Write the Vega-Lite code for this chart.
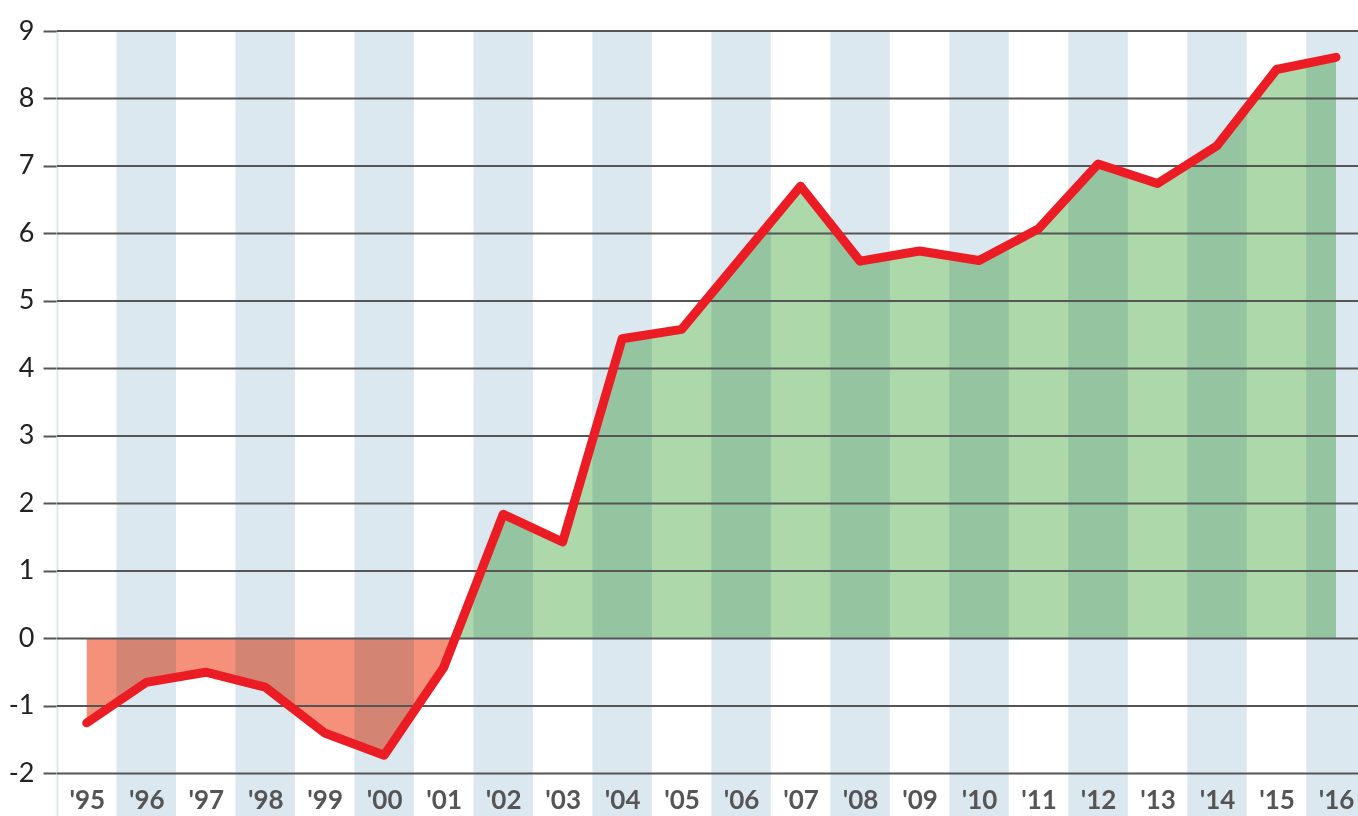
{
  "$schema": "https://vega.github.io/schema/vega-lite/v6.json",
  "autosize": {"type": "none"},
  "padding": {"left": 57, "top": 31, "right": 0, "bottom": 0},
  "width": 1301,
  "height": 785,
  "background": "#ffffff",
  "config": {
    "view": {"stroke": null},
    "axis": {"labelOverlap": false, "labelFlush": false, "labelBound": false}
  },
  "datasets": {
    "series": [
      {"year": 1995, "value": -1.25},
      {"year": 1996, "value": -0.65},
      {"year": 1997, "value": -0.5},
      {"year": 1998, "value": -0.72},
      {"year": 1999, "value": -1.4},
      {"year": 2000, "value": -1.73},
      {"year": 2001, "value": -0.43},
      {"year": 2001.19, "value": 0},
      {"year": 2002, "value": 1.84},
      {"year": 2003, "value": 1.43},
      {"year": 2004, "value": 4.44},
      {"year": 2005, "value": 4.58},
      {"year": 2006, "value": 5.64},
      {"year": 2007, "value": 6.7},
      {"year": 2008, "value": 5.59},
      {"year": 2009, "value": 5.74},
      {"year": 2010, "value": 5.6},
      {"year": 2011, "value": 6.07},
      {"year": 2012, "value": 7.03},
      {"year": 2013, "value": 6.74},
      {"year": 2014, "value": 7.3},
      {"year": 2015, "value": 8.43},
      {"year": 2016, "value": 8.61}
    ],
    "bands": [
      {"start": 1995.5, "end": 1996.5},
      {"start": 1997.5, "end": 1998.5},
      {"start": 1999.5, "end": 2000.5},
      {"start": 2001.5, "end": 2002.5},
      {"start": 2003.5, "end": 2004.5},
      {"start": 2005.5, "end": 2006.5},
      {"start": 2007.5, "end": 2008.5},
      {"start": 2009.5, "end": 2010.5},
      {"start": 2011.5, "end": 2012.5},
      {"start": 2013.5, "end": 2014.5},
      {"start": 2015.5, "end": 2016.5}
    ],
    "grid": [
      {"v": -2}, {"v": -1}, {"v": 0}, {"v": 1}, {"v": 2}, {"v": 3},
      {"v": 4}, {"v": 5}, {"v": 6}, {"v": 7}, {"v": 8}, {"v": 9}
    ]
  },
  "layer": [
    {
      "data": {"name": "bands"},
      "mark": {"type": "rect", "color": "#dce8f0", "clip": true},
      "encoding": {
        "x": {
          "field": "start", "type": "quantitative",
          "scale": {"domain": [1994.5, 2016.37], "nice": false, "zero": false},
          "axis": {
            "values": [1995, 1996, 1997, 1998, 1999, 2000, 2001, 2002, 2003, 2004, 2005, 2006, 2007, 2008, 2009, 2010, 2011, 2012, 2013, 2014, 2015, 2016],
            "format": "d",
            "labelExpr": "\"'\" + slice(datum.label, 2)",
            "title": null,
            "domain": false,
            "ticks": false,
            "grid": false,
            "zindex": 2,
            "labelPadding": -16,
            "labelBaseline": "middle",
            "labelFont": "Lato",
            "labelFontWeight": "bold",
            "labelFontSize": 26,
            "labelColor": "#555555",
            "labelFlush": false,
            "labelOverlap": false
          }
        },
        "x2": {"field": "end"},
        "y": {
          "datum": 9, "type": "quantitative",
          "scale": {"domain": [-2.63, 9], "nice": false, "zero": false},
          "axis": {
            "values": [-2, -1, 0, 1, 2, 3, 4, 5, 6, 7, 8, 9],
            "labelExpr": "toString(datum.value)",
            "title": null,
            "grid": false,
            "domain": true,
            "domainColor": "#dce8f0",
            "domainWidth": 2,
            "ticks": true,
            "tickSize": 14,
            "tickColor": "#555555",
            "tickWidth": 2,
            "labelPadding": 9,
            "labelFont": "Lato",
            "labelFontSize": 27,
            "labelColor": "#222222",
            "labelFlush": false,
            "labelOverlap": false
          }
        },
        "y2": {"datum": -2.63}
      }
    },
    {
      "data": {"name": "series"},
      "transform": [{"filter": "datum.year <= 2001.19"}],
      "mark": {"type": "area", "color": "#f5917a", "blend": "multiply", "opacity": 1},
      "encoding": {
        "x": {"field": "year", "type": "quantitative"},
        "y": {"field": "value", "type": "quantitative"},
        "y2": {"datum": 0}
      }
    },
    {
      "data": {"name": "series"},
      "transform": [{"filter": "datum.year >= 2001.19"}],
      "mark": {"type": "area", "color": "#acd8aa", "blend": "multiply", "opacity": 1},
      "encoding": {
        "x": {"field": "year", "type": "quantitative"},
        "y": {"field": "value", "type": "quantitative"},
        "y2": {"datum": 0}
      }
    },
    {
      "data": {"name": "grid"},
      "mark": {"type": "rule", "color": "#555555", "strokeWidth": 2},
      "encoding": {
        "y": {"field": "v", "type": "quantitative"}
      }
    },
    {
      "data": {"name": "series"},
      "mark": {"type": "line", "color": "#ec1c24", "strokeWidth": 9, "strokeCap": "round", "strokeJoin": "round"},
      "encoding": {
        "x": {"field": "year", "type": "quantitative"},
        "y": {"field": "value", "type": "quantitative"}
      }
    }
  ]
}
